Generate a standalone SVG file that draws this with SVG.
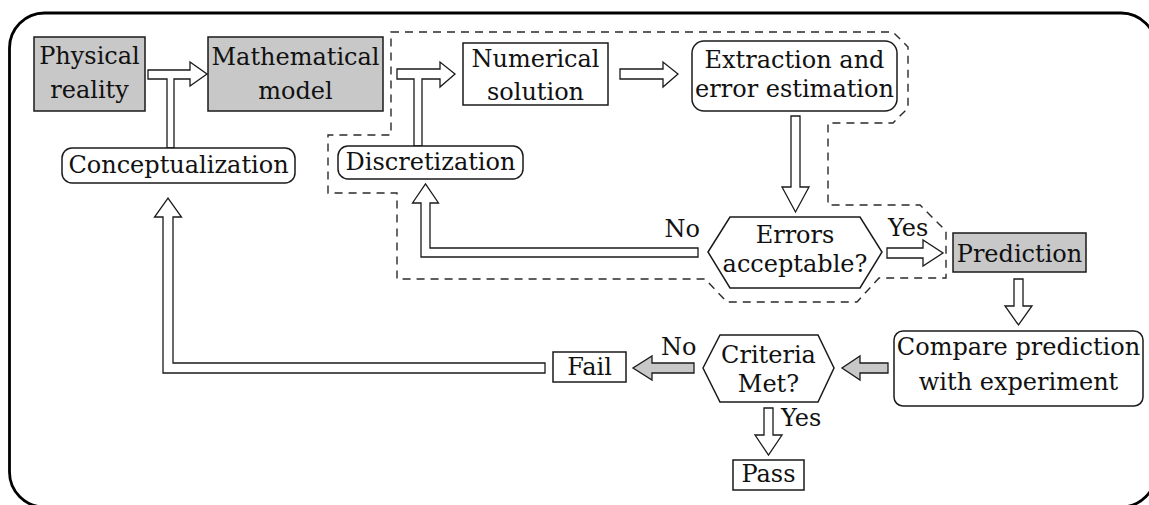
<svg xmlns="http://www.w3.org/2000/svg" width="1149" height="505" viewBox="0 0 1149 505">
<style>
.frame{fill:none;stroke:#000;stroke-width:2.8}
.box{fill:#fff;stroke:#1a1a1a;stroke-width:1.5}
.grey{fill:#c8c8c8;stroke:#1a1a1a;stroke-width:1.5}
.arr{fill:#fff;stroke:#1a1a1a;stroke-width:1.3;stroke-linejoin:miter}
.garr{fill:#c8c8c8;stroke:#1a1a1a;stroke-width:1.3}
.dash{fill:none;stroke:#2a2a2a;stroke-width:1.4;stroke-dasharray:8 6}
text{font-family:"DejaVu Serif","Liberation Serif",serif;font-size:24px;fill:#111;text-anchor:middle}
.lbl{text-anchor:start}
.lblE{text-anchor:end}
</style>
<rect class="frame" x="9.5" y="13" width="1146.5" height="494" rx="35" ry="35"/>
<path class="dash" d="M391,32 H893 L908,47 V108 L893,123 H828 V205 H920 L946,231 V278 H879 L857,302 H727 L705,279 H397 V193 H328 V135 H391 Z"/>
<g id="connectors">
<polygon class="arr" points="148,70 190,70 190,62 207,74 190,86 190,79 174,79 174,148 167,148 167,79 148,79"/>
<polygon class="arr" points="397,69 440,69 440,62 455,74 440,87 440,79 422,79 422,146 414,146 414,79 397,79"/>
<polygon class="arr" points="620,69 663,69 663,62 678,74 663,87 663,79 620,79"/>
<polygon class="arr" points="791,116 800,116 800,187 809,187 795.5,212 782,187 791,187"/>
<polygon class="arr" points="698,248 430,248 430,203 438.5,203 425.5,184 412.5,203 421,203 421,257 698,257"/>
<polygon class="arr" points="887,248 923,248 923,240 943,253 923,266 923,258 887,258"/>
<polygon class="arr" points="1014,279 1023,279 1023,306 1032,306 1018.5,325 1005,306 1014,306"/>
<polygon class="garr" points="888,363 860,363 860,356 842,368 860,380 860,373 888,373"/>
<polygon class="garr" points="694,363 652,363 652,356 633,368 652,380 652,373 694,373"/>
<polygon class="arr" points="764,408 773,408 773,435 782,435 768.5,455 755,435 764,435"/>
<polygon class="arr" points="545,363 173,363 173,217 181.5,217 168,198 154.5,217 163,217 163,373 545,373"/>
<text class="lblE" x="700" y="237">No</text>
<text class="lbl" x="888" y="236">Yes</text>
<text class="lbl" x="661" y="355">No</text>
<text class="lbl" x="781" y="426">Yes</text>
</g>
<g id="physical">
<rect class="grey" x="34" y="37" width="111" height="74"/>
<text x="89.5" y="64">Physical</text>
<text x="89.5" y="98">reality</text>
</g>
<g id="mathematical">
<rect class="grey" x="208" y="37" width="175" height="74"/>
<text x="295.5" y="65">Mathematical</text>
<text x="295.5" y="99">model</text>
</g>
<g id="numerical">
<rect class="box" x="463" y="43" width="145" height="62"/>
<text x="535.5" y="67">Numerical</text>
<text x="535.5" y="100">solution</text>
</g>
<g id="extraction">
<rect class="box" x="692" y="41" width="205" height="70" rx="12"/>
<text x="794.5" y="68">Extraction and</text>
<text x="794.5" y="97">error estimation</text>
</g>
<g id="conceptualization">
<rect class="box" x="62" y="148" width="233" height="35" rx="10"/>
<text x="178.5" y="173">Conceptualization</text>
</g>
<g id="discretization">
<rect class="box" x="338" y="146" width="185" height="33" rx="10"/>
<text x="430.5" y="170">Discretization</text>
</g>
<g id="errors">
<polygon class="box" points="708,252 730,217 860,217 882,252 860,288 730,288"/>
<text x="795" y="243">Errors</text>
<text x="795" y="272">acceptable?</text>
</g>
<g id="prediction">
<rect class="grey" x="953" y="233" width="133" height="39"/>
<text x="1019.5" y="262">Prediction</text>
</g>
<g id="compare">
<rect class="box" x="894" y="331" width="249" height="75" rx="9"/>
<text x="1018.5" y="355">Compare prediction</text>
<text x="1018.5" y="390">with experiment</text>
</g>
<g id="criteria">
<polygon class="box" points="703,368 720,335 818,335 834,368 818,402 720,402"/>
<text x="768.5" y="363">Criteria</text>
<text x="768.5" y="392">Met?</text>
</g>
<g id="fail">
<rect class="box" x="553" y="352" width="73" height="30"/>
<text x="589.5" y="375">Fail</text>
</g>
<g id="pass">
<rect class="box" x="733" y="460" width="71" height="30"/>
<text x="768.5" y="482">Pass</text>
</g>
</svg>
